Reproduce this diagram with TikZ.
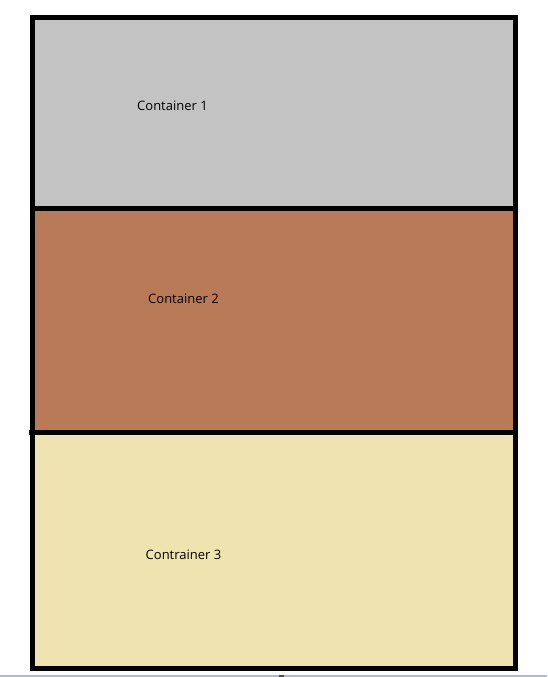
\documentclass[tikz,border=0pt]{standalone}
\usepackage{fontspec}
\setmainfont{Open Sans}
\definecolor{paintgray}{HTML}{C3C3C3}
\definecolor{paintbrown}{HTML}{B97A57}
\definecolor{paintcream}{HTML}{EFE4B0}
\definecolor{winline}{HTML}{A9BCD3}
\begin{document}
\begin{tikzpicture}[x=1pt,y=-1pt,
  container/.style={draw=black, line width=5pt, inner sep=0pt, outer sep=0pt,
    anchor=north west, minimum width=483pt},
  label/.style={inner sep=0pt, anchor=base west, font=\fontsize{13pt}{15pt}\selectfont, text=black}]
\useasboundingbox (0,0) rectangle (547,677);
\fill[white] (0,0) rectangle (547,677);
\node[container, fill=paintgray, minimum height=190.5pt] (c1) at (32.5,18) {};
\node[container, fill=paintbrown, minimum height=224pt] (c2) at (32.5,208.5) {};
\node[container, fill=paintcream, minimum height=236pt] (c3) at (32.5,432.5) {};
\coordinate (tick) at (28.5,432.5);
\draw[line width=5pt] (tick) -- (c3.north west);
\node[label] (t1) at (137,110) {Container 1};
\node[label] (t2) at (148,303.5) {Container 2};
\node[label] (t3) at (145.5,559) {Contrainer 3};
\coordinate (wl) at (0,676);
\coordinate (wr) at (547,676);
\draw[winline, line width=1.2pt] (wl) -- (wr);
\coordinate (ml) at (279,676);
\coordinate (mr) at (284,676);
\draw[black!70, line width=1.2pt] (ml) -- (mr);
\end{tikzpicture}
\end{document}
